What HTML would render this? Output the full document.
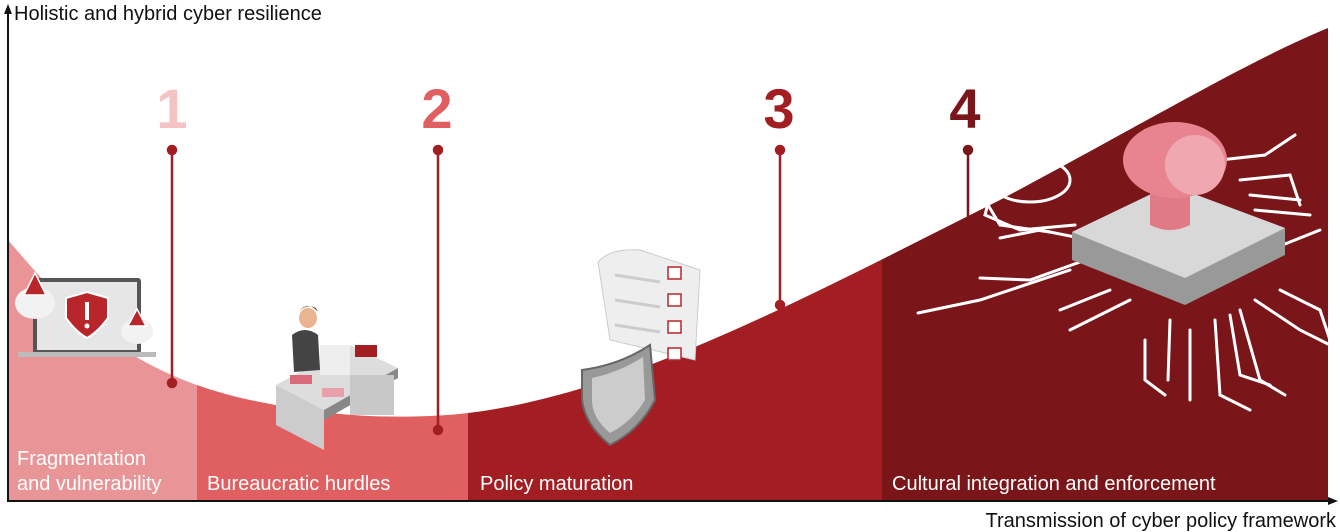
<!DOCTYPE html>
<html><head><meta charset="utf-8"><style>
html,body{margin:0;padding:0;background:#fff;}
svg{display:block;font-family:"Liberation Sans",Arial,sans-serif;}
</style></head><body>
<svg width="1340" height="532" viewBox="0 0 1340 532">
<defs>
<clipPath id="c"><path d="M8,240 C60,300 120,375 260,402 C330,416 380,418 430,416 C600,410 800,300 1000,200 C1150,120 1250,60 1328,28 L1328,501 L8,501 Z"/></clipPath>
</defs>
<g clip-path="url(#c)">
<rect x="8" y="0" width="189" height="501" fill="#e99597"/>
<rect x="197" y="0" width="271" height="501" fill="#e06062"/>
<rect x="468" y="0" width="414" height="501" fill="#a31e23"/>
<rect x="882" y="0" width="446" height="501" fill="#7a1619"/>
</g>
<!-- axes -->
<line x1="8" y1="12" x2="8" y2="501" stroke="#111" stroke-width="2"/>
<polygon points="4,14 8,4 12,14" fill="#111"/>
<line x1="7" y1="501" x2="1330" y2="501" stroke="#111" stroke-width="2"/>
<polygon points="1328,497 1338,501 1328,505" fill="#111"/>
<text x="14" y="20" font-size="20" fill="#111">Holistic and hybrid cyber resilience</text>
<text x="1336" y="527" font-size="20" fill="#111" text-anchor="end">Transmission of cyber policy framework</text>
<!-- numbers -->
<g font-size="56" font-weight="bold" text-anchor="middle">
<text x="172" y="128" fill="#f4c4c4">1</text>
<text x="437" y="128" fill="#e06062">2</text>
<text x="779" y="128" fill="#a31e23">3</text>
<text x="965" y="128" fill="#7a1619">4</text>
</g>
<g stroke="#a31e23" stroke-width="2.5" fill="#a31e23">
<line x1="172" y1="150" x2="172" y2="383"/><circle cx="172" cy="150" r="4"/><circle cx="172" cy="383" r="4"/>
<line x1="438" y1="150" x2="438" y2="430"/><circle cx="438" cy="150" r="4"/><circle cx="438" cy="430" r="4"/>
<line x1="780" y1="150" x2="780" y2="305"/><circle cx="780" cy="150" r="4"/><circle cx="780" cy="305" r="4"/>
</g>
<g stroke="#7a1619" stroke-width="2.5" fill="#7a1619">
<line x1="968" y1="150" x2="968" y2="230"/><circle cx="968" cy="150" r="4"/><circle cx="968" cy="230" r="4"/>
</g>
<!-- labels -->
<g font-size="20" fill="#fff">
<text x="17" y="465">Fragmentation</text>
<text x="17" y="490">and vulnerability</text>
<text x="207" y="490">Bureaucratic hurdles</text>
<text x="480" y="490">Policy maturation</text>
<text x="892" y="490">Cultural integration and enforcement</text>
</g>
<!-- laptop -->
<rect x="33" y="278" width="108" height="76" rx="3" fill="#555"/>
<rect x="37" y="282" width="100" height="68" fill="#e6e6e6"/>
<rect x="18" y="352" width="138" height="5" fill="#bbb"/>
<path d="M87,292 L108,298 L108,318 Q98,332 87,338 Q76,332 66,318 L66,298 Z" fill="#b8262b" stroke="#fff" stroke-width="2"/>
<rect x="85" y="302" width="4" height="18" fill="#fff"/><circle cx="87" cy="326" r="2.5" fill="#fff"/>
<ellipse cx="35" cy="303" rx="20" ry="16" fill="#f2f2f2"/>
<polygon points="35,273 24,295 46,295" fill="#b8262b" stroke="#fff" stroke-width="1.5"/>
<ellipse cx="137" cy="331" rx="16" ry="13" fill="#f2f2f2"/>
<polygon points="137,309 128,326 146,326" fill="#b8262b" stroke="#fff" stroke-width="1.5"/>
<!-- desk -->
<polygon points="276,385 350,345 398,368 324,410" fill="#ddd"/>
<polygon points="276,385 324,410 324,450 276,425" fill="#ccc"/>
<polygon points="324,410 398,368 398,378 324,420" fill="#888"/>
<rect x="350" y="375" width="44" height="40" fill="#c8c8c8"/>
<rect x="320" y="345" width="30" height="30" fill="#eee"/>
<ellipse cx="308" cy="318" rx="9" ry="10" fill="#e9b48f"/>
<path d="M298,312 Q308,300 318,312 L316,308 Q308,304 300,310Z" fill="#6b3a1f"/>
<path d="M292,335 Q305,325 318,335 L320,370 L294,372 Z" fill="#444"/>
<rect x="355" y="345" width="22" height="12" fill="#a31e23"/>
<rect x="290" y="375" width="22" height="9" fill="#d96b78"/>
<rect x="322" y="388" width="22" height="9" fill="#e8a0aa"/>
<!-- document and shield -->
<path d="M598,262 Q610,248 640,250 L700,270 L695,360 L610,340 Z" fill="#eee" stroke="#ccc"/>
<g fill="#fff" stroke="#b8262b" stroke-width="1.5">
<rect x="668" y="267" width="13" height="12"/><rect x="668" y="294" width="13" height="12"/>
<rect x="668" y="321" width="13" height="12"/><rect x="668" y="348" width="13" height="12"/>
</g>
<g stroke="#ccc" stroke-width="3"><line x1="615" y1="275" x2="660" y2="282"/><line x1="615" y1="300" x2="660" y2="307"/><line x1="615" y1="325" x2="660" y2="332"/></g>
<path d="M582,370 Q620,365 650,345 L655,400 Q640,430 610,445 Q585,425 582,400 Z" fill="#999" stroke="#666" stroke-width="2"/>
<path d="M592,378 Q620,372 643,357 L645,400 Q632,422 610,433 Q592,418 592,400 Z" fill="#ccc"/>
<!-- chip circuits -->
<g stroke="#fff" stroke-width="3" fill="none" stroke-linecap="round">
<path d="M918,313 L980,300 L1070,270"/><path d="M980,278 L1030,280 L1080,262"/>
<path d="M1060,310 L1110,290"/><path d="M1070,330 L1130,300"/>
<path d="M1000,238 L1040,230 L1090,240 L1140,250"/>
<path d="M1145,340 L1145,380 L1165,395"/><path d="M1190,330 L1190,400"/><path d="M1215,320 L1220,395 L1250,410"/>
<path d="M1240,310 L1260,380 L1285,395"/><path d="M1280,290 L1320,310 L1330,340"/><path d="M1270,250 L1320,230"/>
<path d="M1170,320 L1168,380"/><path d="M1230,315 L1240,375 L1270,385"/><path d="M1255,300 L1300,330 L1330,345"/>
<path d="M1220,160 L1265,155 L1295,135"/><path d="M1240,180 L1290,175 L1300,205"/>
<path d="M1250,195 L1300,200"/><path d="M1255,210 L1310,215"/>
<ellipse cx="1030" cy="180" rx="40" ry="22"/><path d="M990,195 L985,215 L1020,230 L1075,225"/>
<path d="M985,200 L1000,225 L1050,232"/>
</g>
<polygon points="1072,232 1170,185 1285,228 1285,255 1185,305 1072,260" fill="#999"/>
<polygon points="1072,232 1170,185 1285,228 1185,278" fill="#d8d8d8"/>
<path d="M1150,180 L1150,225 Q1170,235 1190,225 L1190,185 Z" fill="#e07a85"/>
<ellipse cx="1175" cy="160" rx="52" ry="38" fill="#e8848f"/>
<ellipse cx="1195" cy="165" rx="30" ry="30" fill="#f0a8b0"/>
</svg>
</body></html>
